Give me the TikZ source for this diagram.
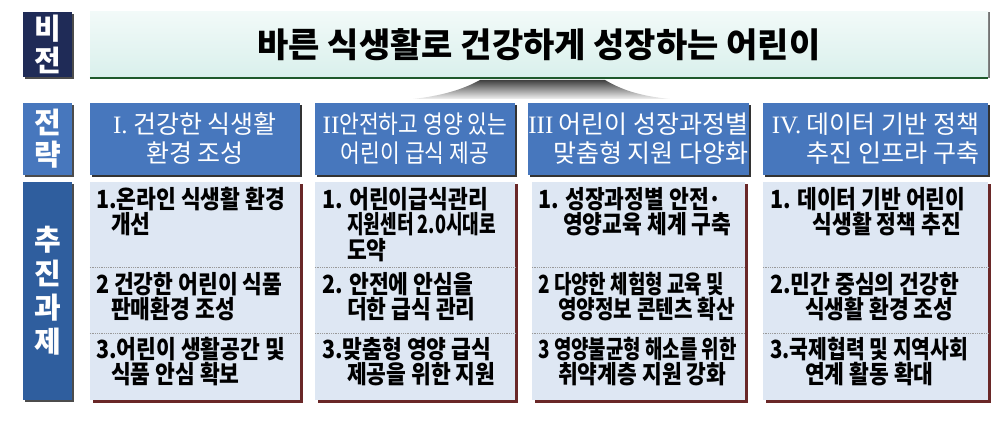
\documentclass[tikz,border=0pt]{standalone}
\usepackage{fontspec}
\usepackage{graphicx}
\setmainfont{Noto Sans CJK KR}
\newfontfamily\taskfont{Noto Sans CJK KR}[FakeStretch=0.86]
\newfontfamily\romfont{Liberation Serif}
\usetikzlibrary{shadows}
\definecolor{navy}{HTML}{1F2B57}
\definecolor{stratblue}{HTML}{4777BD}
\definecolor{taskblue}{HTML}{2F5E9E}
\definecolor{taskfill}{HTML}{DEE7F3}
\definecolor{mint}{HTML}{D9F0EC}
\definecolor{greenline}{HTML}{1E5A2C}
\definecolor{redshade}{HTML}{6A2828}
\newcommand{\rn}[1]{{\romfont #1}}
\newcommand{\squeeze}[2]{\scalebox{#1}[1]{#2}}

\begin{document}
\begin{tikzpicture}[x=1pt,y=-1pt,
  sidelabel/.style={text=white, align=center, inner sep=0pt,
    font=\bfseries\fontsize{29}{32}\selectfont,
    drop shadow={shadow xshift=1.5pt, shadow yshift=-2pt, opacity=1, fill=black!70}},
  stratbox/.style={fill=stratblue, text=white, minimum height=72pt, inner sep=0pt,
    font=\fontsize{25}{29}\selectfont,
    drop shadow={shadow xshift=2pt, shadow yshift=-2pt, opacity=1, fill=black!80}},
  taskbox/.style={fill=taskfill, minimum height=218pt, inner sep=0pt,
    drop shadow={shadow xshift=2.5pt, shadow yshift=-2.5pt, opacity=1, fill=redshade}},
  item/.style={anchor=north west, align=left, inner sep=0pt,
    font=\taskfont\bfseries\fontsize{25}{25.5}\selectfont},
  sep/.style={gray!80, densely dotted, line width=0.8pt}]

\useasboundingbox (0,0) rectangle (1003,422);

% vision
\node[sidelabel, fill=navy, minimum width=49pt, minimum height=65pt] (vl) at (47.5,44.5) {비\\전};
\node[top color=mint!35, bottom color=mint, minimum width=898pt, minimum height=66pt, inner sep=0pt,
  drop shadow={shadow xshift=2pt, shadow yshift=0pt, opacity=1, fill=black!55},
  font=\bfseries\fontsize{34}{38}\selectfont] (vb) at (539,45) {바른 식생활로 건강하게 성장하는 어린이};
\draw[greenline, line width=2.5pt] (vb.south west) -- (vb.south east);
\shade[top color=black!75, bottom color=black!5]
  (480,80) -- (605,80) .. controls (622,90) and (640,96) .. (670,99)
  -- (413,99) .. controls (440,96) and (462,90) .. (480,80);

% strategies
\node[sidelabel, fill=stratblue, minimum width=49pt, minimum height=72pt] (sl) at (47.5,139) {전\\략};
\node[stratbox, minimum width=210pt, align=center] (s1) at (195,139) {\rn{I.} 건강한 식생활\\환경 조성};
\node[stratbox, minimum width=200pt, align=center, font=\taskfont\fontsize{25}{29}\selectfont] (s2) at (415,139) {\rn{II}안전하고 영양 있는\\어린이 급식 제공};
\node[stratbox, minimum width=213pt, align=right] (s3) at (638.5,139) {\rn{III} 어린이 성장과정별\\맞춤형 지원 다양화};
\node[stratbox, minimum width=225pt, align=right] (s4) at (875.5,139) {\rn{IV.} 데이터 기반 정책\\추진 인프라 구축};

% tasks
\node[sidelabel, fill=taskblue, minimum width=49pt, minimum height=218pt,
  font=\bfseries\fontsize{29}{34}\selectfont] (tl) at (47.5,291) {추\\진\\과\\제};
\node[taskbox, minimum width=210pt] (t1) at (195,291) {};
\node[taskbox, minimum width=200pt] (t2) at (415,291) {};
\node[taskbox, minimum width=213pt] (t3) at (638.5,291) {};
\node[taskbox, minimum width=225pt] (t4) at (875.5,291) {};

\foreach \c in {t1,t2,t3,t4} {
  \draw[sep] (\c.west |- 0,267) -- (\c.east |- 0,267);
  \draw[sep] (\c.west |- 0,333) -- (\c.east |- 0,333);
}

\node[item] (t1a) at (96,187) {1.온라인 식생활 환경\\\hspace*{0.6em}개선};
\node[item] (t1b) at (96,272) {2 건강한 어린이 식품\\\hspace*{0.6em}판매환경 조성};
\node[item] (t1c) at (96,337) {3.어린이 생활공간 및\\\hspace*{0.6em}식품 안심 확보};

\node[item] (t2a) at (322,187) {1. 어린이급식관리\\\hspace*{1em}\squeeze{0.84}{지원센터 2.0시대로}\\\hspace*{1em}도약};
\node[item] (t2b) at (322,272) {2. 안전에 안심을\\\hspace*{1em}더한 급식 관리};
\node[item] (t2c) at (322,337) {3.맞춤형 영양 급식\\\hspace*{1em}제공을 위한 지원};

\node[item] (t3a) at (538,187) {1. 성장과정별 안전·\\\hspace*{1em}영양교육 체계 구축};
\node[item] (t3b) at (538,272) {\squeeze{0.88}{2 다양한 체험형 교육 및}\\\hspace*{0.8em}\squeeze{0.94}{영양정보 콘텐츠 확산}};
\node[item] (t3c) at (538,337) {\squeeze{0.88}{3 영양불균형 해소를 위한}\\\hspace*{0.8em}취약계층 지원 강화};

\node[item] (t4a) at (770,187) {1. 데이터 기반 어린이\\\hspace*{1.7em}식생활 정책 추진};
\node[item] (t4b) at (770,272) {2.민간 중심의 건강한\\\hspace*{1.4em}식생활 환경 조성};
\node[item] (t4c) at (770,337) {\squeeze{0.95}{3.국제협력 및 지역사회}\\\hspace*{1.4em}연계 활동 확대};

\end{tikzpicture}
\end{document}
